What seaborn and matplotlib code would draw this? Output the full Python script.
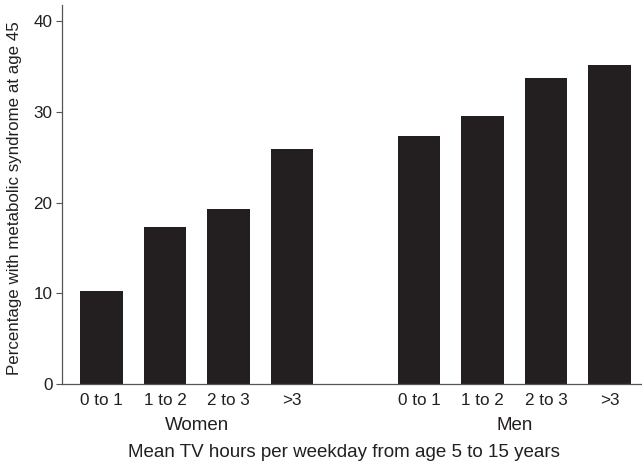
import numpy as np
import pandas as pd
import matplotlib
matplotlib.use("Agg")
import matplotlib.pyplot as plt
import seaborn as sns

groups = ["Women", "Men"]
categories = ["0 to 1", "1 to 2", "2 to 3", ">3"]
women_values = [10.3, 17.3, 19.3, 25.9]
men_values = [27.3, 29.6, 33.8, 35.2]
y_ticks = [0, 10, 20, 30, 40]
x_label = "Mean TV hours per weekday from age 5 to 15 years"
y_label = "Percentage with metabolic syndrome at age 45"

sns.set_theme(style="ticks")
plt.rcParams["font.family"] = ["Liberation Sans", "DejaVu Sans"]

W, H = 642, 463
TXT = "#231f20"

rows = []
for gi, (g, vals) in enumerate(zip(groups, [women_values, men_values])):
    for ci, (c, v) in enumerate(zip(categories, vals)):
        rows.append({"group": g, "cat": c, "pos": gi * (len(categories) + 1) + ci, "value": v})
df = pd.DataFrame(rows)

fig = plt.figure(figsize=(W / 100, H / 100), dpi=100)
ax = fig.add_axes([62 / W, 1 - 384 / H, 1 - 62 / W, (384 - 5) / H])

sns.barplot(data=df, x="pos", y="value", native_scale=True, color=TXT,
            saturation=1, width=0.67, ax=ax, errorbar=None, edgecolor="none")

ax.set_xlim(-0.62, 8.51)
ax.set_ylim(0, 41.8)
ax.set_yticks(y_ticks)
ax.set_yticklabels([str(t) for t in y_ticks], fontsize=12.3, color=TXT)
ax.set_xticks(df["pos"])
ax.set_xticklabels(df["cat"], fontsize=12.3, color=TXT)
ax.tick_params(axis="x", length=0, pad=6.5)
ax.tick_params(axis="y", length=4.3, width=0.8, color="#555555", pad=2.5, direction="out")
ax.set_xlabel("")
ax.set_ylabel("")

for s in ["top", "right"]:
    ax.spines[s].set_visible(False)
for s in ["left", "bottom"]:
    ax.spines[s].set_color("#555555")
    ax.spines[s].set_linewidth(0.9)

# group labels
for g in groups:
    sub = df[df["group"] == g]
    center = sub["pos"].mean()
    ax.text(center, 1 - 430 / H, g, transform=matplotlib.transforms.blended_transform_factory(ax.transData, fig.transFigure),
            ha="center", va="baseline", fontsize=13.5, color=TXT)

fig.text(344 / W, 1 - 456.7 / H, x_label, ha="center", va="baseline", fontsize=13.5, color=TXT)
fig.text(14.5 / W, 1 - 198 / H, y_label, ha="center", va="center", rotation=90, fontsize=12.2, color=TXT)

fig.savefig("out.png", dpi=100)
